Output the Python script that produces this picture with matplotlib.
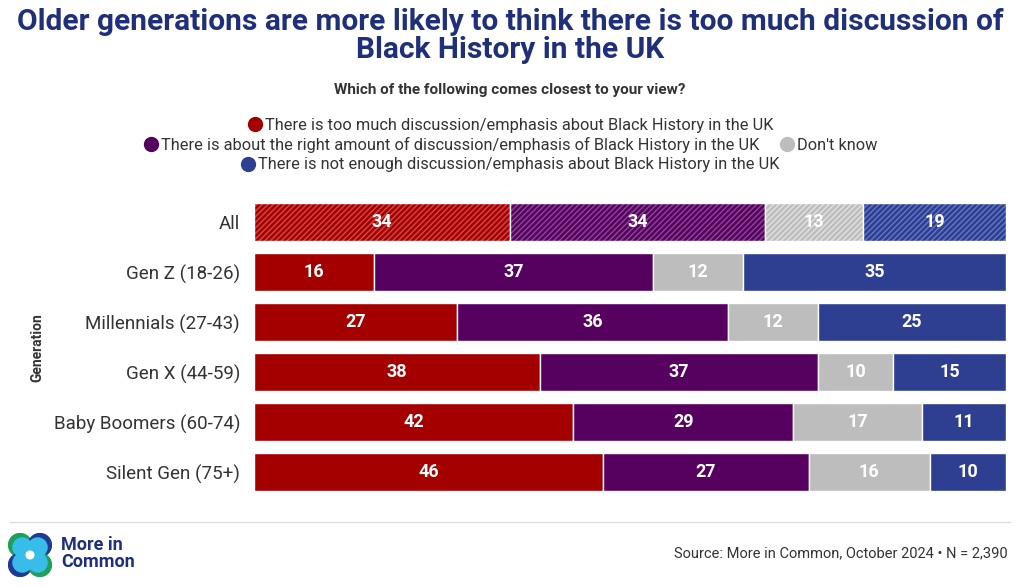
import matplotlib.pyplot as plt
import numpy as np
from matplotlib.lines import Line2D
from matplotlib.patches import Circle

plt.rcParams['font.family'] = ['Roboto', 'DejaVu Sans']

groups = ['All', 'Gen Z (18-26)', 'Millennials (27-43)', 'Gen X (44-59)',
          'Baby Boomers (60-74)', 'Silent Gen (75+)']
too_much = [34, 16, 27, 38, 42, 46]
right_amount = [34, 37, 36, 37, 29, 27]
dont_know = [13, 12, 12, 10, 17, 16]
not_enough = [19, 35, 25, 15, 11, 10]

series_names = ['There is too much discussion/emphasis about Black History in the UK',
                'There is about the right amount of discussion/emphasis of Black History in the UK',
                "Don't know",
                'There is not enough discussion/emphasis about Black History in the UK']
colors = ['#A50000', '#560060', '#BDBDBD', '#2E3F92']
hatch_colors = ['#D24A4A', '#8A4A94', '#E2E2E2', '#6677C4']

navy = '#1F2F7A'
text_grey = '#333333'

fig = plt.figure(figsize=(10.2, 5.87), dpi=100)
ax = fig.add_axes([254 / 1020, 1 - 497 / 587, 752 / 1020, 300 / 587])

data = np.array([too_much, right_amount, dont_know, not_enough], dtype=float)
y = np.arange(len(groups))
totals = data.sum(axis=0)
shares = data / totals * 100  # rounded values don't always add to 100
left = np.zeros(len(groups))
for vals, shr, c, hc in zip(data, shares, colors, hatch_colors):
    for i in range(len(groups)):
        if i == 0:
            ax.barh(y[i], shr[i], left=left[i], height=0.76, color=c,
                    edgecolor=hc, hatch='//////', linewidth=0)
            ax.barh(y[i], shr[i], left=left[i], height=0.76, fill=False,
                    edgecolor='white', linewidth=1)
        else:
            ax.barh(y[i], shr[i], left=left[i], height=0.76, color=c,
                    edgecolor='white', linewidth=1)
        ax.text(left[i] + shr[i] / 2, y[i], f'{int(vals[i])}', ha='center',
                va='center', color='white', fontsize=13, fontweight='bold')
    left += shr

ax.set_xlim(0, 100)
ax.set_ylim(len(groups) - 0.5, -0.5)
ax.set_yticks(y)
ax.set_yticklabels(groups, fontsize=13.5, color=text_grey)
ax.tick_params(axis='y', length=0, pad=10)
ax.set_xticks([])
for s in ax.spines.values():
    s.set_visible(False)

fig.text(37 / 1020, 1 - 348 / 587, 'Generation', rotation=90, ha='center',
         va='center', fontsize=10, fontweight='bold', color=text_grey)

# title and subtitle
fig.text(0.5, 1 - 22 / 587, 'Older generations are more likely to think there is too much discussion of',
         ha='center', va='center', fontsize=21.5, fontweight='bold', color=navy)
fig.text(0.5, 1 - 50 / 587, 'Black History in the UK',
         ha='center', va='center', fontsize=21.5, fontweight='bold', color=navy)
fig.text(0.5, 1 - 90 / 587, 'Which of the following comes closest to your view?',
         ha='center', va='center', fontsize=11, fontweight='bold', color=text_grey)

# legend rows
def handle(c):
    return Line2D([], [], marker='o', linestyle='', markersize=10,
                  markerfacecolor=c, markeredgecolor=c)

rows = [([0], 1 - 125 / 587), ([1, 2], 1 - 145 / 587), ([3], 1 - 165 / 587)]
for idx, yy in rows:
    leg = fig.legend([handle(colors[k]) for k in idx], [series_names[k] for k in idx],
                     loc='center', bbox_to_anchor=(0.5, yy), ncol=len(idx),
                     frameon=False, fontsize=11.8, handletextpad=0.1,
                     columnspacing=1.2, handlelength=1.0, borderpad=0)
    for t in leg.get_texts():
        t.set_color(text_grey)

# footer
fig.add_artist(Line2D([10 / 1020, 1010 / 1020], [1 - 522 / 587, 1 - 522 / 587],
                      color='#DDDDDD', linewidth=1))
fig.text(1008 / 1020, 1 - 553 / 587, 'Source: More in Common, October 2024 \u2022 N = 2,390',
         ha='right', va='center', fontsize=10.5, color=text_grey)

# logo
logo = fig.add_axes([8 / 1020, 1 - 577 / 587, 44 / 1020, 44 / 587])
logo.set_xlim(0, 4)
logo.set_ylim(0, 4)
logo.set_aspect('equal')
logo.axis('off')
for (cx, cy), c in zip([(1.1, 2.9), (2.9, 2.9), (1.1, 1.1), (2.9, 1.1)],
                       ['#1FA05A', '#1F3A93', '#1F3A93', '#1FA05A']):
    logo.add_patch(Circle((cx, cy), 1.05, color=c))
for (cx, cy) in [(1.3, 2.7), (2.7, 2.7), (1.3, 1.3), (2.7, 1.3)]:
    logo.add_patch(Circle((cx, cy), 0.85, color='#38BDEB'))
logo.add_patch(Circle((2, 2), 0.35, color='white'))
fig.text(61 / 1020, 1 - 545 / 587, 'More in', ha='left', va='center',
         fontsize=13, fontweight='bold', color=navy)
fig.text(61 / 1020, 1 - 562 / 587, 'Common', ha='left', va='center',
         fontsize=13, fontweight='bold', color=navy)

fig.savefig('out.png', dpi=100)
